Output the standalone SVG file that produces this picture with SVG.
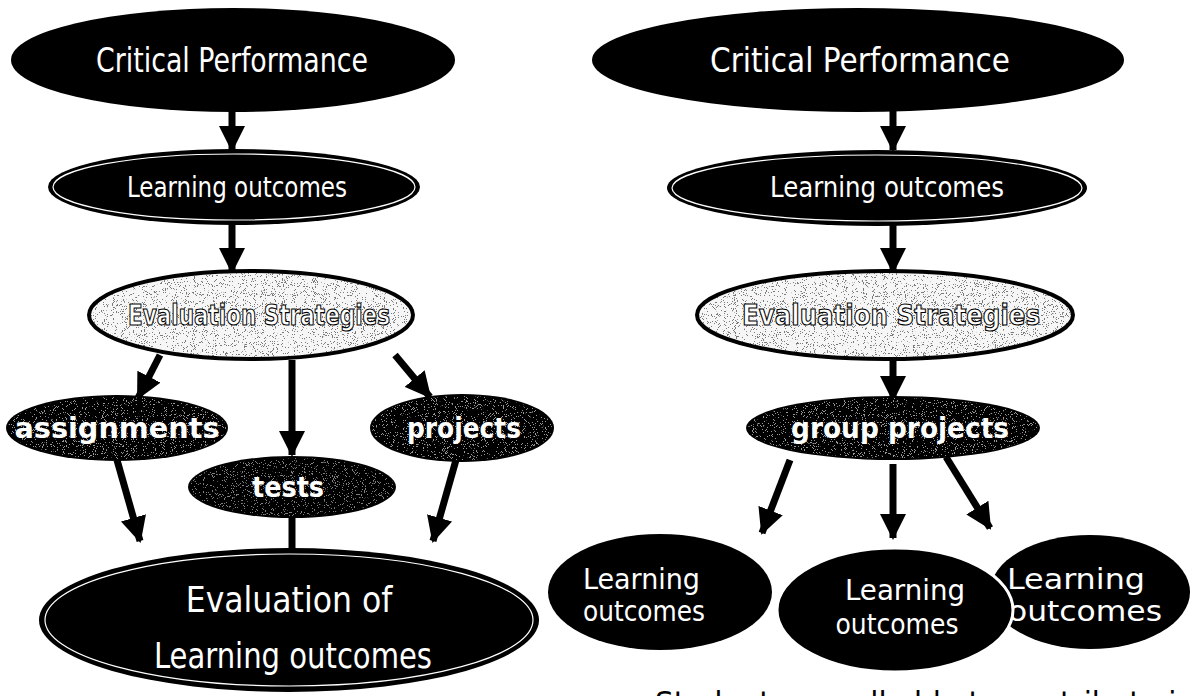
<svg xmlns="http://www.w3.org/2000/svg" width="1197" height="696" viewBox="0 0 1197 696">
  <style>
    .dark { fill: #000; }
    .ring { fill: none; stroke: #fff; stroke-width: 1.2; }
    .light { fill: #f6f6f6; stroke: #000; stroke-width: 4; }
    .lbl { font-family: "DejaVu Sans Condensed", "Liberation Sans Narrow", "Roboto", sans-serif; fill: #fff; text-anchor: middle; }
    .lft { text-anchor: start; }
    .bold { font-weight: bold; }
    .outline { font-family: "DejaVu Sans Condensed", "Liberation Sans Narrow", "Roboto", sans-serif; fill: #fff; stroke: #000; stroke-width: 1.1; text-anchor: middle; font-weight: bold; }
    .edge { stroke: #000; stroke-width: 7; fill: none; }
    .caption { font-family: "DejaVu Sans Condensed", "Liberation Sans Narrow", "Roboto", sans-serif; fill: #000; font-size: 30px; }
  </style>
  <defs>
    <marker id="head" markerUnits="userSpaceOnUse" markerWidth="26" markerHeight="26" refX="24" refY="13" orient="auto">
      <path d="M0,0 L26,13 L0,26 z" fill="#000"/>
    </marker>
    <!-- sparse grain: dark dots on light ovals, light dots on dark ovals -->
    <filter id="grainDark" x="0" y="0" width="100%" height="100%">
      <feTurbulence type="fractalNoise" baseFrequency="1.1" numOctaves="2" seed="4" result="n"/>
      <feColorMatrix in="n" type="matrix" values="0 0 0 0 0  0 0 0 0 0  0 0 0 0 0  -40 0 0 0 14.6" result="dots"/>
      <feComposite in="dots" in2="SourceGraphic" operator="in"/>
    </filter>
    <filter id="grainLight" x="0" y="0" width="100%" height="100%">
      <feTurbulence type="fractalNoise" baseFrequency="1.1" numOctaves="2" seed="9" result="n"/>
      <feColorMatrix in="n" type="matrix" values="0 0 0 0 1  0 0 0 0 1  0 0 0 0 1  -40 0 0 0 14.4" result="dots"/>
      <feComposite in="dots" in2="SourceGraphic" operator="in"/>
    </filter>
  </defs>

  <rect width="1197" height="696" fill="#fff"/>

  <!-- connectors -->
  <g id="connectors">
    <line class="edge" x1="232" y1="110" x2="232" y2="150" marker-end="url(#head)"/>
    <line class="edge" x1="232" y1="224" x2="232" y2="272" marker-end="url(#head)"/>
    <line class="edge" x1="160" y1="355" x2="138" y2="398" marker-end="url(#head)"/>
    <line class="edge" x1="292" y1="360" x2="292" y2="455" marker-end="url(#head)"/>
    <line class="edge" x1="395" y1="355" x2="430" y2="397" marker-end="url(#head)"/>
    <line class="edge" x1="117" y1="460" x2="140" y2="541" marker-end="url(#head)"/>
    <line class="edge" x1="456" y1="460" x2="433" y2="541" marker-end="url(#head)"/>
    <line class="edge" x1="292" y1="516" x2="292" y2="552"/>

    <line class="edge" x1="893" y1="110" x2="893" y2="150" marker-end="url(#head)"/>
    <line class="edge" x1="893" y1="224" x2="893" y2="272" marker-end="url(#head)"/>
    <line class="edge" x1="893" y1="358" x2="893" y2="400" marker-end="url(#head)"/>
    <line class="edge" x1="790" y1="460" x2="762" y2="533" marker-end="url(#head)"/>
    <line class="edge" x1="893" y1="464" x2="893" y2="538" marker-end="url(#head)"/>
    <line class="edge" x1="946" y1="457" x2="990" y2="528" marker-end="url(#head)"/>
  </g>

  <!-- left chart -->
  <g id="cp-left">
    <ellipse class="dark" cx="233" cy="60" rx="222" ry="52"/>
    <text class="lbl" x="232" y="72" font-size="33" textLength="272" lengthAdjust="spacingAndGlyphs">Critical Performance</text>
  </g>
  <g id="lo-left">
    <ellipse class="dark" cx="234" cy="187" rx="186" ry="38"/>
    <ellipse class="ring" cx="234" cy="187" rx="181" ry="33"/>
    <text class="lbl" x="237" y="197" font-size="28" textLength="220" lengthAdjust="spacingAndGlyphs">Learning outcomes</text>
  </g>
  <g id="es-left">
    <ellipse class="light" cx="251" cy="315" rx="162" ry="44"/>
    <ellipse cx="251" cy="315" rx="160" ry="42" filter="url(#grainDark)" opacity="0.5"/>
    <text class="outline" x="259" y="325" font-size="28" textLength="262" lengthAdjust="spacingAndGlyphs">Evaluation Strategies</text>
  </g>
  <g id="assignments">
    <ellipse class="dark" cx="117" cy="428" rx="111" ry="33"/>
    <ellipse cx="117" cy="428" rx="109" ry="31" filter="url(#grainLight)" opacity="0.6"/>
    <text class="lbl bold" x="117" y="438" font-size="28" textLength="205" lengthAdjust="spacingAndGlyphs">assignments</text>
  </g>
  <g id="projects">
    <ellipse class="dark" cx="462" cy="428" rx="92" ry="34"/>
    <ellipse cx="462" cy="428" rx="90" ry="32" filter="url(#grainLight)" opacity="0.6"/>
    <text class="lbl bold" x="464" y="438" font-size="28" textLength="114" lengthAdjust="spacingAndGlyphs">projects</text>
  </g>
  <g id="tests">
    <ellipse class="dark" cx="292" cy="487" rx="104" ry="31"/>
    <ellipse cx="292" cy="487" rx="102" ry="29" filter="url(#grainLight)" opacity="0.5"/>
    <text class="lbl bold" x="288" y="497" font-size="28" textLength="72" lengthAdjust="spacingAndGlyphs">tests</text>
  </g>
  <g id="eval-lo">
    <ellipse class="dark" cx="289" cy="620" rx="250" ry="72"/>
    <ellipse class="ring" cx="289" cy="620" rx="244" ry="66"/>
    <text class="lbl" x="289" y="612" font-size="35">Evaluation of</text>
    <text class="lbl" x="293" y="668" font-size="35" textLength="278" lengthAdjust="spacingAndGlyphs">Learning outcomes</text>
  </g>

  <!-- right chart -->
  <g id="cp-right">
    <ellipse class="dark" cx="858" cy="60" rx="266" ry="52"/>
    <text class="lbl" x="860" y="72" font-size="33" textLength="300" lengthAdjust="spacingAndGlyphs">Critical Performance</text>
  </g>
  <g id="lo-right">
    <ellipse class="dark" cx="877" cy="188" rx="210" ry="38"/>
    <ellipse class="ring" cx="877" cy="188" rx="205" ry="33"/>
    <text class="lbl" x="887" y="197" font-size="28" textLength="234" lengthAdjust="spacingAndGlyphs">Learning outcomes</text>
  </g>
  <g id="es-right">
    <ellipse class="light" cx="885" cy="315" rx="188" ry="44"/>
    <ellipse cx="885" cy="315" rx="186" ry="42" filter="url(#grainDark)" opacity="0.5"/>
    <text class="outline" x="891" y="325" font-size="29" textLength="298" lengthAdjust="spacingAndGlyphs">Evaluation Strategies</text>
  </g>
  <g id="group-projects">
    <ellipse class="dark" cx="893" cy="428" rx="147" ry="32"/>
    <ellipse cx="893" cy="428" rx="145" ry="30" filter="url(#grainLight)" opacity="0.6"/>
    <text class="lbl bold" x="900" y="438" font-size="28" textLength="218" lengthAdjust="spacingAndGlyphs">group projects</text>
  </g>
  <g id="lo-1">
    <ellipse class="dark" cx="660" cy="592" rx="112" ry="58"/>
    <text class="lbl lft" x="583" y="589" font-size="29" textLength="117" lengthAdjust="spacingAndGlyphs">Learning</text>
    <text class="lbl lft" x="583" y="621" font-size="29" textLength="122" lengthAdjust="spacingAndGlyphs">outcomes</text>
  </g>
  <g id="lo-3">
    <ellipse class="dark" cx="1090" cy="592" rx="100" ry="57"/>
    <text class="lbl lft" x="1007" y="589" font-size="29" textLength="138" lengthAdjust="spacingAndGlyphs">Learning</text>
    <text class="lbl lft" x="1008" y="621" font-size="29" textLength="154" lengthAdjust="spacingAndGlyphs">outcomes</text>
  </g>
  <g id="lo-2">
    <ellipse class="dark" cx="895" cy="610" rx="118" ry="62" stroke="#fff" stroke-width="3"/>
    <text class="lbl" x="905" y="600" font-size="29" textLength="120" lengthAdjust="spacingAndGlyphs">Learning</text>
    <text class="lbl" x="897" y="634" font-size="29" textLength="123" lengthAdjust="spacingAndGlyphs">outcomes</text>
  </g>

  <text class="caption" x="655" y="713" textLength="540" lengthAdjust="spacingAndGlyphs">Students are all able to contribute in</text>
</svg>
